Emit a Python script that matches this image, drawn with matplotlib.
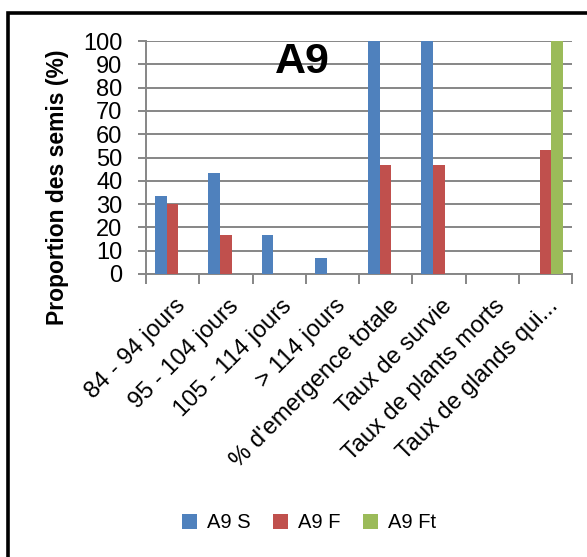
import matplotlib
matplotlib.use("Agg")
import matplotlib.pyplot as plt
from matplotlib.patches import Rectangle
from matplotlib.transforms import ScaledTranslation
import numpy as np

categories = [
    "84 - 94 jours",
    "95 - 104 jours",
    "105 - 114 jours",
    "> 114 jours",
    "% d'emergence totale",
    "Taux de survie",
    "Taux de plants morts",
    "Taux de glands qui...",
]
series_names = ["A9 S", "A9 F", "A9 Ft"]
a9_s = [33.3, 43.3, 16.7, 6.7, 100, 100, 0, 0]
a9_f = [30.0, 16.7, 0, 0, 46.7, 46.7, 0, 53.3]
a9_ft = [0, 0, 0, 0, 0, 0, 0, 100]
colors = ["#4F81BD", "#C0504D", "#9BBB59"]
y_ticks = list(range(0, 101, 10))

plt.rcParams["font.family"] = ["Liberation Sans", "DejaVu Sans"]

W, H = 587, 557
fig = plt.figure(figsize=(W / 100, H / 100), dpi=100)
ax = fig.add_axes([146 / W, 1 - 274 / H, (572 - 146) / W, (274 - 41) / H])

x = np.arange(len(categories))
bw = 0.22
for i, (vals, c, name) in enumerate(zip([a9_s, a9_f, a9_ft], colors, series_names)):
    ax.bar(x + (i - 1) * bw, vals, width=bw, color=c, label=name, zorder=3)

grey = "#868686"
ax.set_xlim(-0.5, len(categories) - 0.5)
ax.set_ylim(0, 100)
ax.set_yticks(y_ticks)
ax.set_yticklabels([str(v) for v in y_ticks], fontsize=17)
ax.yaxis.grid(True, color=grey, linewidth=1.4, zorder=0)
ax.tick_params(axis="y", length=6, width=1.4, color=grey, pad=11)

ax.set_xticks(x)
ax.set_xticklabels(categories, rotation=45, ha="right", va="top",
                   rotation_mode="anchor", fontsize=17)
ax.tick_params(axis="x", which="major", length=0, pad=15)
ax.set_xticks(np.arange(len(categories) + 1) - 0.5, minor=True)
ax.tick_params(axis="x", which="minor", length=7, width=1.4, color=grey)
shift = ScaledTranslation(2 / 100, 0, fig.dpi_scale_trans)
for lbl in ax.get_xticklabels():
    lbl.set_transform(lbl.get_transform() + shift)

for s in ["top", "right"]:
    ax.spines[s].set_visible(False)
for s in ["left", "bottom"]:
    ax.spines[s].set_color(grey)
    ax.spines[s].set_linewidth(1.4)

ax.set_ylabel("Proportion des semis (%)", fontsize=16.5, fontweight="bold")
ax.yaxis.set_label_coords(-77 / 426, (274 - 187) / 233)

fig.text(302 / W, 1 - 62 / H, "A9", fontsize=31, fontweight="bold",
         ha="center", va="center")

handles, labels = ax.get_legend_handles_labels()
fig.legend(handles, labels, loc="center", bbox_to_anchor=(309 / W, 1 - 523 / H),
           ncol=3, frameon=False, fontsize=14.5, handlelength=0.75, handleheight=0.75,
           columnspacing=1.1, handletextpad=0.5)

fig.patches.append(Rectangle((7.5 / W, -0.1), 1.2, 1 - 12.5 / H + 0.1,
                             transform=fig.transFigure, fill=False,
                             edgecolor="black", linewidth=2.6))

fig.savefig("out.png", dpi=100, facecolor="white")
